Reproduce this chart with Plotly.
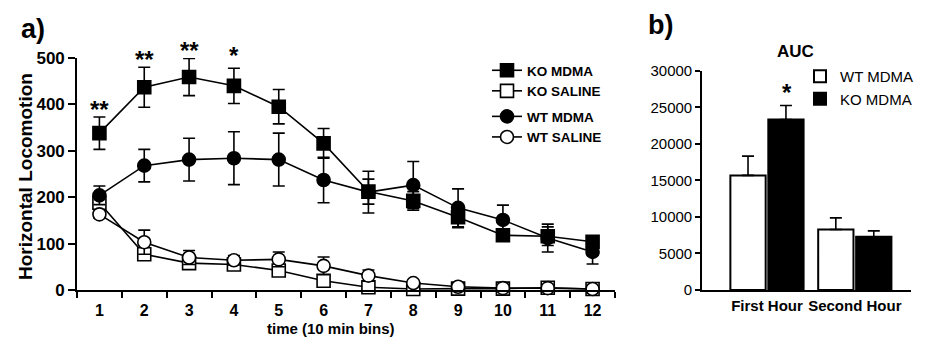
import plotly.graph_objects as go

# ---------------- data ----------------
time_bins = [1, 2, 3, 4, 5, 6, 7, 8, 9, 10, 11, 12]

ko_mdma = [338, 437, 459, 440, 395, 316, 212, 192, 157, 118, 116, 104]
ko_mdma_err = [35, 43, 40, 38, 37, 32, 27, 20, 23, 8, 20, 12]

ko_saline = [188, 77, 58, 55, 42, 20, 6, 2, 3, 3, 5, 2]
ko_saline_err = [12, 8, 8, 8, 10, 8, 4, 2, 2, 2, 3, 2]

wt_mdma = [204, 268, 281, 284, 281, 237, 211, 226, 177, 151, 112, 82]
wt_mdma_err = [20, 35, 46, 57, 57, 49, 45, 51, 41, 32, 30, 26]

wt_saline = [163, 103, 70, 64, 66, 52, 31, 15, 7, 4, 4, 2]
wt_saline_err = [8, 26, 15, 10, 16, 19, 12, 6, 3, 2, 2, 2]

sig_bins = [1, 2, 3, 4]
sig_labels = ["**", "**", "**", "*"]

auc_groups = ["First Hour", "Second Hour"]
auc_wt_mdma = [15680, 8270]
auc_wt_mdma_err = [2640, 1590]
auc_ko_mdma = [23320, 7270]
auc_ko_mdma_err = [1910, 820]
auc_sig_label = "*"

# ---------------- style ----------------
# the page body has an 8px margin, so the figure is offset by 8px
OFF = 8
W, H = 929 - OFF, 339 - OFF
FONT = "Liberation Sans, Arial, sans-serif"


def px_x(p):
    return (p - OFF) / W


def px_y(p):
    return 1 - (p - OFF) / H


fig = go.Figure()

err_style = dict(type="data", color="black", thickness=1.6, width=6, visible=True)

series = [
    ("KO MDMA", ko_mdma, ko_mdma_err, "square", "black", "KO"),
    ("KO SALINE", ko_saline, ko_saline_err, "square", "white", "KO"),
    ("WT MDMA", wt_mdma, wt_mdma_err, "circle", "black", "WT"),
    ("WT SALINE", wt_saline, wt_saline_err, "circle", "white", "WT"),
]
# draw saline first so MDMA lines sit on top, but keep legend order
draw_order = [1, 3, 2, 0]
for idx in draw_order:
    name, vals, errs, sym, fill, grp = series[idx]
    fig.add_trace(go.Scatter(
        x=time_bins, y=vals, name=name, mode="lines+markers",
        line=dict(color="black", width=1.6),
        marker=dict(symbol=sym, size=13, color=fill, line=dict(color="black", width=1.6)),
        error_y=dict(array=errs, **err_style),
        legendgroup=grp, legendrank=idx + 1, cliponaxis=False,
        xaxis="x", yaxis="y", legend="legend",
    ))

bar_err = dict(type="data", symmetric=False, color="black", thickness=1.6, width=6)
fig.add_trace(go.Bar(
    x=[0, 1], y=auc_wt_mdma, name="WT MDMA",
    marker=dict(color="white", line=dict(color="black", width=2)),
    error_y=dict(array=auc_wt_mdma_err, arrayminus=[0, 0], **bar_err),
    xaxis="x2", yaxis="y2", legend="legend2",
))
fig.add_trace(go.Bar(
    x=[0, 1], y=auc_ko_mdma, name="KO MDMA",
    marker=dict(color="black", line=dict(color="black", width=2)),
    error_y=dict(array=auc_ko_mdma_err, arrayminus=[0, 0], **bar_err),
    xaxis="x2", yaxis="y2", legend="legend2",
))

annotations = []
# significance stars, left panel (placed just above error bars)
star_offsets = [10, 10, 10, 15]
for b, lab, off in zip(sig_bins, sig_labels, star_offsets):
    i = time_bins.index(b)
    annotations.append(dict(
        x=b, y=ko_mdma[i] + ko_mdma_err[i], xref="x", yref="y",
        text=lab, showarrow=False, yanchor="bottom", yshift=off - 18,
        font=dict(family=FONT, size=24, color="black", weight="bold"),
    ))
# significance star, right panel
annotations.append(dict(
    x=0.23, y=auc_ko_mdma[0] + auc_ko_mdma_err[0], xref="x2", yref="y2",
    text=auc_sig_label, showarrow=False, yanchor="bottom", yshift=-2,
    font=dict(family=FONT, size=24, color="black", weight="bold"),
))
# panel letters & titles
annotations += [
    dict(x=px_x(19), y=px_y(29), xref="paper", yref="paper", text="a)", showarrow=False,
         xanchor="left", yanchor="middle",
         font=dict(family=FONT, size=27, color="black", weight="bold")),
    dict(x=px_x(646), y=px_y(25), xref="paper", yref="paper", text="b)", showarrow=False,
         xanchor="left", yanchor="middle",
         font=dict(family=FONT, size=27, color="black", weight="bold")),
    dict(x=px_x(795), y=px_y(51), xref="paper", yref="paper", text="AUC", showarrow=False,
         xanchor="center", yanchor="middle",
         font=dict(family=FONT, size=17, color="black", weight="bold")),
    dict(x=px_x(331), y=px_y(328), xref="paper", yref="paper", text="time (10 min bins)",
         showarrow=False, xanchor="center", yanchor="middle",
         font=dict(family=FONT, size=15, color="black", weight="bold")),
    dict(x=px_x(25), y=px_y(177), xref="paper", yref="paper", text="Horizontal Locomotion",
         showarrow=False, textangle=-90, xanchor="center", yanchor="middle",
         font=dict(family=FONT, size=19, color="black", weight="bold")),
]

axis_common = dict(showline=True, linecolor="black", linewidth=1.6, showgrid=False,
                   zeroline=False, mirror=False, automargin=False)

fig.update_layout(
    width=W, height=H,
    margin=dict(l=0, r=0, t=0, b=0, autoexpand=False),
    paper_bgcolor="white", plot_bgcolor="white",
    font=dict(family=FONT, color="black"),
    barmode="group", bargap=0.136, bargroupgap=0.07,
    xaxis=dict(
        domain=[px_x(77), px_x(615)], range=[0.5, 12.5], anchor="y",
        tickmode="array", tickvals=time_bins, ticks="outside", ticklen=5,
        tickcolor="rgba(0,0,0,0)",
        tickfont=dict(family=FONT, size=16, color="black", weight="bold"),
        minor=dict(tickmode="linear", tick0=0.5, dtick=1, ticks="outside",
                   ticklen=6, tickwidth=1.6, tickcolor="black"),
        **axis_common,
    ),
    yaxis=dict(
        domain=[px_y(290), px_y(58)], range=[0, 500], anchor="x",
        tickmode="linear", tick0=0, dtick=100, ticks="outside", ticklen=7,
        tickwidth=1.6, tickcolor="black",
        tickfont=dict(family=FONT, size=17, color="black", weight="bold"),
        **axis_common,
    ),
    xaxis2=dict(
        domain=[px_x(702), px_x(911)], range=[-0.74, 1.64], anchor="y2",
        tickmode="array", tickvals=[0, 1], ticktext=auc_groups,
        ticks="outside", ticklen=1, tickcolor="rgba(0,0,0,0)",
        tickfont=dict(family=FONT, size=15, color="black", weight="bold"),
        **axis_common,
    ),
    yaxis2=dict(
        domain=[px_y(290), px_y(70.7)], range=[0, 30000], anchor="x2",
        tickmode="linear", tick0=0, dtick=5000, tickformat="d",
        ticks="outside", ticklen=5, tickwidth=1.6, tickcolor="black",
        tickfont=dict(family=FONT, size=15, color="black"),
        **axis_common,
    ),
    legend=dict(
        x=px_x(487), y=px_y(55), xanchor="left", yanchor="top",
        bgcolor="rgba(0,0,0,0)", borderwidth=0,
        traceorder="grouped", tracegroupgap=5,
        font=dict(family=FONT, size=13.5, color="black", weight="bold"),
        itemsizing="trace",
    ),
    legend2=dict(
        x=px_x(800), y=px_y(60), xanchor="left", yanchor="top",
        bgcolor="rgba(0,0,0,0)", borderwidth=0, traceorder="normal",
        font=dict(family=FONT, size=15, color="black"),
    ),
    annotations=annotations,
    showlegend=True,
)

fig.write_html("out.html")
